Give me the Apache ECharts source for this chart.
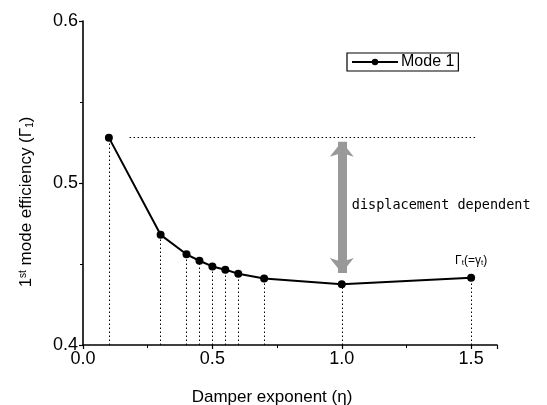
<!DOCTYPE html>
<html>
<head>
<meta charset="utf-8">
<script src="https://cdn.jsdelivr.net/npm/echarts@6/dist/echarts.min.js"></script>
<style>
  html, body { margin: 0; padding: 0; background: #fff; }
  #chart-container { width: 547px; height: 405px; }
</style>
</head>
<body>
<div id="chart-container"></div>
<script>
// damper exponent values and 1st mode efficiency
var exponents = [0.1, 0.3, 0.4, 0.45, 0.5, 0.55, 0.6, 0.7, 1.0, 1.5];
var efficiency = [0.528, 0.468, 0.456, 0.452, 0.4485, 0.4465, 0.444, 0.441, 0.4375, 0.4415];

// reference level (dotted) and the "displacement dependent" arrow
var refLevel = 0.5285;
var refFrom = 0.18, refTo = 1.52;
var arrowX = 1.0;
var arrowRange = [0.5255, 0.4445];

var xTicks = ["0.0", "0.5", "1.0", "1.5"];
var yTicks = ["0.4", "0.5", "0.6"];

var dom = document.getElementById("chart-container");
var myChart = echarts.init(dom, null, { renderer: "canvas" });

var seriesData = exponents.map(function (x, i) { return [x, efficiency[i]]; });

var dropLines = seriesData.map(function (p) {
  return [{ coord: [p[0], 0.4] }, { coord: [p[0], p[1]] }];
});

var font = "Liberation Sans";

var option = {
  animation: false,
  grid: { left: 83, right: 50, top: 21, bottom: 60, outerBoundsMode: "none", containLabel: false },
  legend: {
    data: ["Mode 1"],
    left: 347,
    top: 53,
    itemWidth: 46,
    itemHeight: 8,
    itemGap: 4,
    padding: [1, 4, 1, 4],
    borderColor: "#000",
    borderWidth: 1.2,
    borderRadius: 0,
    textStyle: { fontFamily: font, fontSize: 16, color: "#000", padding: [0, 0, 0, -2] }
  },
  xAxis: {
    type: "value",
    min: 0,
    max: 1.6,
    interval: 0.5,
    name: "Damper exponent (η)",
    nameLocation: "middle",
    nameGap: 44,
    nameTextStyle: { fontFamily: font, fontSize: 17, color: "#000", padding: [0, 36, 0, 0] },
    axisLine: { lineStyle: { color: "#000", width: 1.6 } },
    axisTick: { length: 4, lineStyle: { color: "#000", width: 1.2 } },
    minorTick: { show: true, splitNumber: 2, length: 3, lineStyle: { color: "#000" } },
    splitLine: { show: false },
    axisLabel: {
      fontFamily: font, fontSize: 18, color: "#000", margin: 5,
      showMaxLabel: false,
      formatter: function (v) {
        var s = v.toFixed(1);
        return xTicks.indexOf(s) >= 0 ? s : "";
      }
    }
  },
  yAxis: {
    type: "value",
    min: 0.4,
    max: 0.6,
    interval: 0.1,
    name: "{a|1}{sup|st}{a| mode efficiency (Γ}{sub|1}{a|)}",
    nameLocation: "middle",
    nameGap: 48,
    nameRotate: 90,
    nameTextStyle: {
      padding: [0, 38, 0, 0],
      rich: {
        a: { fontFamily: font, fontSize: 17, color: "#000" },
        sup: { fontFamily: font, fontSize: 10, color: "#000", verticalAlign: "top", lineHeight: 10 },
        sub: { fontFamily: font, fontSize: 10, color: "#000", verticalAlign: "bottom", lineHeight: 10 }
      }
    },
    axisLine: { show: true, lineStyle: { color: "#000", width: 1.6 } },
    axisTick: { length: 4, lineStyle: { color: "#000", width: 1.2 } },
    minorTick: { show: true, splitNumber: 2, length: 3, lineStyle: { color: "#000" } },
    splitLine: { show: false },
    axisLabel: {
      fontFamily: font, fontSize: 18, color: "#000", margin: 5,
      formatter: function (v) {
        var s = v.toFixed(1);
        return yTicks.indexOf(s) >= 0 ? s : "";
      }
    }
  },
  series: [
    {
      name: "Mode 1",
      type: "line",
      data: seriesData,
      symbol: "circle",
      symbolSize: 8,
      itemStyle: { color: "#000" },
      lineStyle: { color: "#000", width: 2 },
      markLine: {
        silent: true,
        symbol: "none",
        label: { show: false },
        lineStyle: { color: "#000", type: [1.5, 2.5], width: 1 },
        data: dropLines.concat([
          [{ coord: [refFrom, refLevel] }, { coord: [refTo, refLevel] }]
        ])
      },
      markPoint: {
        silent: true,
        symbol: "circle",
        symbolSize: 0,
        data: [
          {
            coord: [exponents[exponents.length - 1], efficiency[efficiency.length - 1]],
            label: {
              show: true,
              position: "top",
              distance: 11,
              formatter: "{a|Γ}{s|t}{a|(=γ}{s|t}{a|)}",
              rich: {
                a: { fontFamily: font, fontSize: 12, color: "#000" },
                s: { fontFamily: font, fontSize: 8, color: "#000", verticalAlign: "bottom", lineHeight: 8 }
              }
            }
          },
          {
            coord: [arrowX, (arrowRange[0] + arrowRange[1]) / 2 + 0.001],
            label: {
              show: true,
              position: "right",
              distance: 10,
              formatter: "displacement dependent",
              fontFamily: "DejaVu Sans Mono",
              fontSize: 13.5,
              color: "#000"
            }
          }
        ]
      }
    },
    {
      // gray double-headed arrow
      type: "line",
      data: [],
      markLine: {
        silent: true,
        symbol: ["arrow", "arrow"],
        symbolSize: [18, 15],
        label: { show: false },
        lineStyle: { color: "#999", type: "solid", width: 9 },
        itemStyle: { color: "#999" },
        data: [
          [{ coord: [arrowX, arrowRange[0]] }, { coord: [arrowX, arrowRange[1]] }]
        ]
      }
    }
  ]
};

myChart.setOption(option);
window.addEventListener("resize", myChart.resize);
</script>
</body>
</html>
